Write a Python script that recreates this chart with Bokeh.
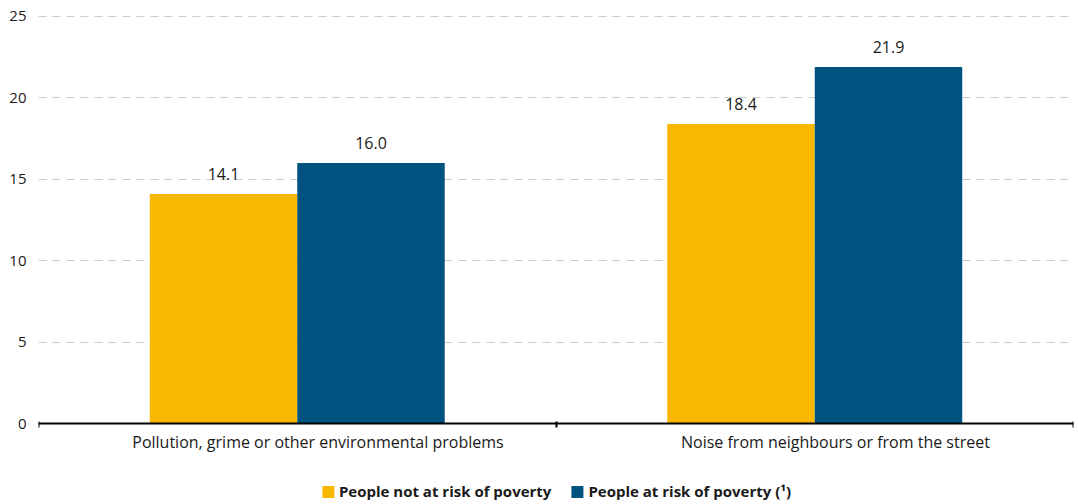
from bokeh.plotting import figure
from bokeh.models import (ColumnDataSource, FixedTicker, Legend, LegendItem,
                          LabelSet, Range1d)
from bokeh.core.properties import value
from bokeh.transform import dodge
from bokeh.embed import file_html
from bokeh.resources import INLINE

categories = ["Pollution, grime or other environmental problems",
              "Noise from neighbours or from the street"]
not_at_risk = [14.1, 18.4]
at_risk = [16.0, 21.9]
series_names = ["People not at risk of poverty", "People at risk of poverty (\u00b9)"]
y_ticks = [0, 5, 10, 15, 20, 25]

FONT = "Open Sans"
YELLOW = "#F9B800"
BLUE = "#00527F"
TXT = "#1a1a1a"

xc = [i + 0.5 for i in range(len(categories))]
src = ColumnDataSource(dict(
    x=xc, a=not_at_risk, b=at_risk,
    alab=[f"{v:.1f}" for v in not_at_risk],
    blab=[f"{v:.1f}" for v in at_risk],
))

# frame reaches the bottom of the page; the x axis sits at y = 0 inside it
p = figure(frame_width=1035, frame_height=489, output_backend="svg", toolbar_location=None,
           x_range=Range1d(0, len(categories)), y_range=Range1d(-4.975, 25.06),
           min_border_left=38, min_border_right=5, min_border_top=15,
           min_border_bottom=0)
p.outline_line_color = None

bw = 0.285
r1 = p.vbar(x=dodge("x", -bw / 2, range=p.x_range), top="a", width=bw,
            source=src, fill_color=YELLOW, line_color=None)
r2 = p.vbar(x=dodge("x", bw / 2, range=p.x_range), top="b", width=bw,
            source=src, fill_color=BLUE, line_color=None)

for col, lab, off in (("a", "alab", -bw / 2), ("b", "blab", bw / 2)):
    ls = LabelSet(x=dodge("x", off, range=p.x_range), y=col, text=lab, source=src,
                  text_align="center", text_baseline="middle", y_offset=20,
                  text_font=value(FONT), text_font_size=value("16px"), text_color=TXT)
    p.add_layout(ls)

# grid
p.xgrid.grid_line_color = None
p.ygrid.grid_line_color = "#cccccc"
p.ygrid.grid_line_dash = "8 6"
p.ygrid.grid_line_width = 1
p.ygrid.ticker = FixedTicker(ticks=y_ticks)

# y axis
p.yaxis.ticker = FixedTicker(ticks=y_ticks)
p.yaxis.axis_line_color = None
p.yaxis.major_tick_line_color = None
p.yaxis.major_tick_out = 0
p.yaxis.major_tick_in = 0
p.yaxis.minor_tick_line_color = None
p.yaxis.major_label_text_font = FONT
p.yaxis.major_label_text_font_size = "15px"
p.yaxis.major_label_text_color = TXT
p.yaxis.major_label_standoff = 12

# x axis
lab_shift = 0.04
lab_pos = [v + lab_shift for v in xc]
p.xaxis.fixed_location = 0
p.xaxis.ticker = FixedTicker(ticks=lab_pos, minor_ticks=list(range(len(categories) + 1)))
p.xaxis.major_label_overrides = {v: c for v, c in zip(lab_pos, categories)}
p.xaxis.axis_line_color = "#000000"
p.xaxis.axis_line_width = 2
p.xaxis.major_tick_line_color = None
p.xaxis.major_tick_out = 0
p.xaxis.major_tick_in = 0
p.xaxis.minor_tick_line_color = "#000000"
p.xaxis.minor_tick_line_width = 2
p.xaxis.minor_tick_in = 2
p.xaxis.minor_tick_out = 4
p.xaxis.major_label_standoff = 3
p.xaxis.major_label_text_font = FONT
p.xaxis.major_label_text_font_size = "16px"
p.xaxis.major_label_text_color = TXT

legend = Legend(items=[LegendItem(label=series_names[0], renderers=[r1]),
                       LegendItem(label=series_names[1], renderers=[r2])],
                orientation="horizontal", location="bottom_center",
                label_text_font=FONT, label_text_font_size="15px",
                label_text_font_style="bold", label_text_color=TXT,
                glyph_width=15, glyph_height=15, label_standoff=4, spacing=18,
                border_line_color=None, background_fill_alpha=0,
                margin=3, padding=0, label_height=15)
p.add_layout(legend, "center")

open("out.html", "w").write(file_html(p, INLINE))
